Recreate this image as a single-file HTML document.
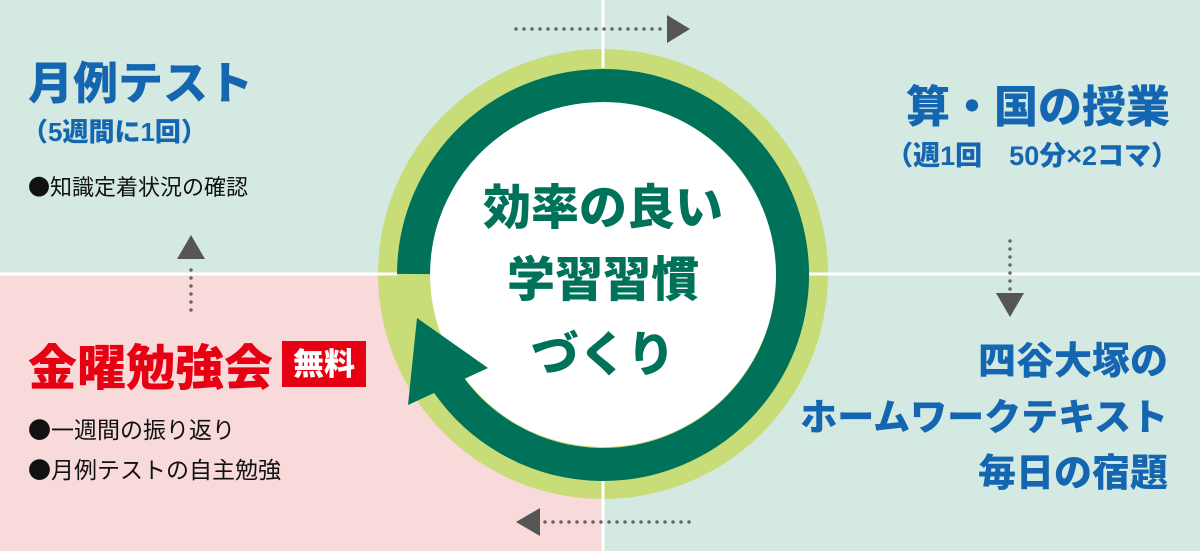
<!DOCTYPE html>
<html><head><meta charset="utf-8"><style>
html,body{margin:0;padding:0;width:1200px;height:551px;overflow:hidden;background:#d4e9e1}
svg{display:block}
text{font-family:"Liberation Sans","Noto Sans CJK JP",sans-serif}
.j{font-family:"Noto Sans CJK JP",sans-serif}
.b{font-weight:900}
</style></head><body>
<svg width="1200" height="551" viewBox="0 0 1200 551" xmlns="http://www.w3.org/2000/svg">
<rect x="0" y="0" width="1200" height="551" fill="#d4e9e1"/>
<rect x="0" y="274" width="603" height="277" fill="#f8dada"/>
<line x1="603" y1="0" x2="603" y2="551" stroke="#fff" stroke-width="3"/>
<line x1="0" y1="274" x2="1200" y2="274" stroke="#fff" stroke-width="3"/>
<circle cx="603" cy="274" r="225" fill="#c8dc78"/>
<circle cx="603" cy="274" r="173" fill="#fff"/>
<line x1="603" y1="49" x2="603" y2="68" stroke="#fff" stroke-width="3"/>
<line x1="603" y1="480" x2="603" y2="499" stroke="#fff" stroke-width="3"/>
<line x1="378" y1="274" x2="397" y2="274" stroke="#fff" stroke-width="3"/>
<line x1="809" y1="274" x2="828" y2="274" stroke="#fff" stroke-width="3"/>
<path d="M447.3 383 A189.5 189.5 0 1 0 413.5 274" fill="none" stroke="#00725a" stroke-width="33"/>
<polygon points="417,318 488,368 408,405" fill="#00725a"/>
<line x1="516" y1="29" x2="664" y2="29" stroke="#666" stroke-width="3.5" stroke-linecap="round" stroke-dasharray="0 8"/>
<polygon points="667,15 690,29 667,43" fill="#555"/>
<line x1="1010" y1="241" x2="1010" y2="290" stroke="#666" stroke-width="3.5" stroke-linecap="round" stroke-dasharray="0 8"/>
<polygon points="996,293 1024,293 1010,317" fill="#555"/>
<line x1="689" y1="522" x2="544" y2="522" stroke="#666" stroke-width="3.5" stroke-linecap="round" stroke-dasharray="0 8"/>
<polygon points="540,508 540,536 516,522" fill="#555"/>
<line x1="191" y1="310" x2="191" y2="262" stroke="#666" stroke-width="3.5" stroke-linecap="round" stroke-dasharray="0 8"/>
<polygon points="177,259 205,259 191,235" fill="#555"/>
<text x="28" y="99" class="b" font-size="45" fill="#1566b1">月例テスト</text>
<text x="22" y="141" class="b" font-size="26" fill="#1566b1">（5週間に1回）</text>
<text x="28" y="195" class="j" font-size="22" fill="#111">●知識定着状況の確認</text>
<text x="1170" y="122" class="b" font-size="44" fill="#1566b1" text-anchor="end">算・国の授業</text>
<text x="1178" y="165" class="b" font-size="27" fill="#1566b1" text-anchor="end">（週1回　50分×2コマ）</text>
<text x="1168" y="374" class="b" font-size="38" fill="#1566b1" text-anchor="end">四谷大塚の</text>
<text x="1168" y="430" class="b" font-size="37" fill="#1566b1" text-anchor="end">ホームワークテキスト</text>
<text x="1168" y="486" class="b" font-size="38" fill="#1566b1" text-anchor="end">毎日の宿題</text>
<text x="28" y="385" class="b" font-size="49" fill="#e60012">金曜勉強会</text>
<rect x="282" y="341" width="84" height="46" fill="#e60012"/>
<text x="324" y="375" class="b" font-size="31" fill="#fff" text-anchor="middle">無料</text>
<text x="28" y="438" class="j" font-size="23" fill="#111">●一週間の振り返り</text>
<text x="28" y="478" class="j" font-size="23" fill="#111">●月例テストの自主勉強</text>
<text x="603" y="224" class="b" font-size="48" fill="#00725a" text-anchor="middle">効率の良い</text>
<text x="603" y="296" class="b" font-size="48" fill="#00725a" text-anchor="middle">学習習慣</text>
<text x="603" y="371" class="b" font-size="48" fill="#00725a" text-anchor="middle">づくり</text>
</svg>
</body></html>
